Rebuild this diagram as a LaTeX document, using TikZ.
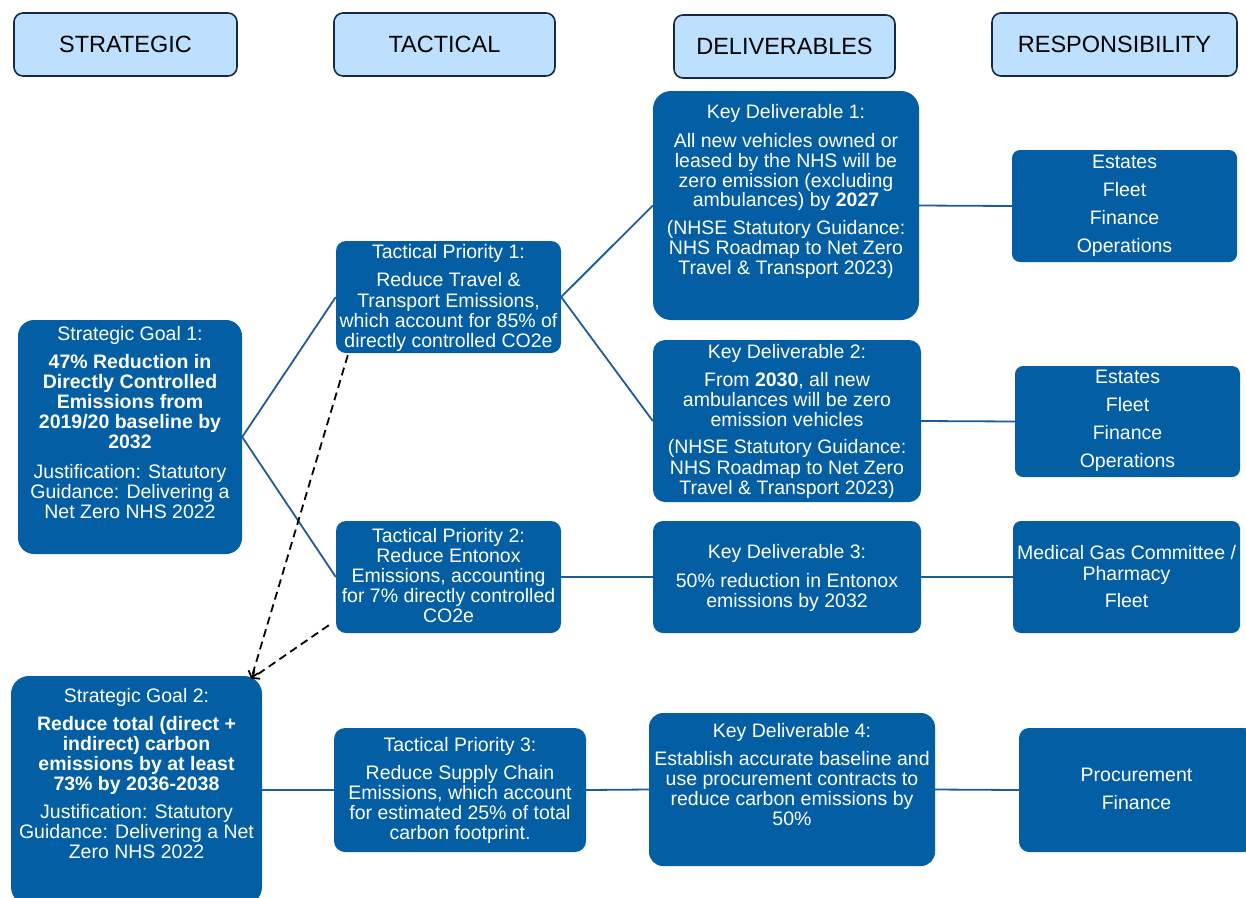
\documentclass[tikz,border=0pt]{standalone}
\usepackage{fontspec}
\setmainfont{Liberation Sans}
\usetikzlibrary{calc,arrows.meta}
\definecolor{nhsblue}{RGB}{3,94,164}
\definecolor{hdrfill}{RGB}{189,224,254}
\definecolor{hdrline}{RGB}{22,41,66}
\definecolor{linkblue}{RGB}{30,92,152}
\tikzset{
  hdr/.style={draw=hdrline, line width=1.6pt, fill=hdrfill, rounded corners=9pt, inner sep=0pt, font=\fontsize{23.5}{27}\selectfont, text=black},
  bbox/.style={fill=nhsblue, draw=none, rounded corners=10pt, inner sep=0pt},
  txt/.style={text=white, align=center, inner sep=0pt, anchor=north, font=\fontsize{19.5}{20.3}\selectfont},
  link/.style={draw=linkblue, line width=1.8pt},
  dep/.style={draw=black, line width=1.8pt, dash pattern=on 8pt off 5pt, -{Straight Barb[length=6pt,width=10pt]}}
}
\begin{document}
\begin{tikzpicture}[x=1pt,y=-1pt]
\useasboundingbox (0,0) rectangle (1246,897);
% headers
\node[hdr, minimum width=223pt, minimum height=63pt] (hs) at (125.5,44.5) {STRATEGIC};
\node[hdr, minimum width=221pt, minimum height=63pt] (ht) at (444.5,44.5) {TACTICAL};
\node[hdr, minimum width=221pt, minimum height=63pt] (hd) at (784.5,46.5) {DELIVERABLES};
\node[hdr, minimum width=245pt, minimum height=63pt] (hr) at (1114.5,44.5) {RESPONSIBILITY};
% strategic
\node[bbox, rounded corners=16pt, minimum width=224pt, minimum height=234pt] (g1) at (130,437) {};
\node[txt, font=\fontsize{19.5}{20}\selectfont] (g1t) at (130,325.8) {Strategic Goal 1:\\[8pt]
\textbf{47\% Reduction in}\\ \textbf{Directly Controlled}\\ \textbf{Emissions from}\\ \textbf{2019/20 baseline by}\\ \textbf{2032}\\[10pt]
Justification: Statutory\\ Guidance: Delivering a\\ Net Zero NHS 2022};
\node[bbox, rounded corners=18pt, minimum width=251pt, minimum height=229pt] (g2) at (136.5,790.5) {};
\node[txt, font=\fontsize{19.5}{20}\selectfont] (g2t) at (136.5,687.8) {Strategic Goal 2:\\[8pt]
\textbf{Reduce total (direct +}\\ \textbf{indirect) carbon}\\ \textbf{emissions by at least}\\ \textbf{73\% by 2036-2038}\\[8pt]
Justification: Statutory\\ Guidance: Delivering a Net\\ Zero NHS 2022};
% tactical
\node[bbox, minimum width=225pt, minimum height=112pt] (t1) at (448.5,297) {};
\node[txt] (t1t) at (448.5,243.8) {Tactical Priority 1:\\[8.5pt]
Reduce Travel \&\\ Transport Emissions,\\ which account for 85\% of\\ directly controlled CO2e};
\node[bbox, minimum width=225pt, minimum height=112pt] (t2) at (448.5,577) {};
\node[txt, font=\fontsize{19.5}{20.2}\selectfont] (t2t) at (448.5,527.8) {Tactical Priority 2:\\
Reduce Entonox\\ Emissions, accounting\\ for 7\% directly controlled\\ CO2e};
\node[bbox, rounded corners=11pt, minimum width=252pt, minimum height=124pt] (t3) at (460,790) {};
\node[txt, font=\fontsize{19.5}{20}\selectfont] (t3t) at (460,736.8) {Tactical Priority 3:\\[8pt]
Reduce Supply Chain\\ Emissions, which account\\ for estimated 25\% of total\\ carbon footprint.};
% deliverables
\node[bbox, rounded corners=18pt, minimum width=266pt, minimum height=229pt] (k1) at (786,205.5) {};
\node[txt, font=\fontsize{19.5}{19.7}\selectfont] (k1t) at (786,103.8) {Key Deliverable 1:\\[10pt]
All new vehicles owned or\\ leased by the NHS will be\\ zero emission (excluding\\ ambulances) by \textbf{2027}\\[8pt]
(NHSE Statutory Guidance:\\ NHS Roadmap to Net Zero\\ Travel \& Transport 2023)};
\node[bbox, rounded corners=12pt, minimum width=268pt, minimum height=162pt] (k2) at (787,421) {};
\node[txt, font=\fontsize{19.5}{20.2}\selectfont] (k2t) at (787,343.8) {Key Deliverable 2:\\[8pt]
From \textbf{2030}, all new\\ ambulances will be zero\\ emission vehicles\\[7pt]
(NHSE Statutory Guidance:\\ NHS Roadmap to Net Zero\\ Travel \& Transport 2023)};
\node[bbox, minimum width=268pt, minimum height=112pt] (k3) at (787,577) {};
\node[txt, font=\fontsize{19.5}{20}\selectfont] (k3t) at (787,543.8) {Key Deliverable 3:\\[9pt]
50\% reduction in Entonox\\ emissions by 2032};
\node[bbox, rounded corners=14pt, minimum width=286pt, minimum height=153pt] (k4) at (792,789.5) {};
\node[txt, font=\fontsize{19.5}{20}\selectfont] (k4t) at (792,722.8) {Key Deliverable 4:\\[8pt]
Establish accurate baseline and\\ use procurement contracts to\\ reduce carbon emissions by\\ 50\%};
% responsibility
\node[bbox, rounded corners=8pt, minimum width=225pt, minimum height=112pt] (r1) at (1124.5,206) {};
\node[txt, font=\fontsize{19.5}{20}\selectfont] (r1t) at (1124.5,154.8) {Estates\\[8pt] Fleet\\[8pt] Finance\\[8pt] Operations};
\node[bbox, rounded corners=8pt, minimum width=225pt, minimum height=111pt] (r2) at (1127.5,421.5) {};
\node[txt, font=\fontsize{19.5}{20}\selectfont] (r2t) at (1127.5,369.8) {Estates\\[8pt] Fleet\\[8pt] Finance\\[8pt] Operations};
\node[bbox, rounded corners=8pt, minimum width=227pt, minimum height=112pt] (r3) at (1126.5,577) {};
\node[txt, font=\fontsize{19.5}{21}\selectfont] (r3t) at (1126.5,544.8) {Medical Gas Committee /\\ Pharmacy\\[6pt] Fleet};
\node[bbox, rounded corners=10pt, minimum width=235pt, minimum height=124pt] (r4) at (1136.5,790) {};
\node[txt, font=\fontsize{19.5}{20}\selectfont] (r4t) at (1136.5,767.8) {Procurement\\[8pt] Finance};
% connectors
\draw[link] (t1.west) -- (g1.east) -- (t2.west);
\draw[link] (k1.west) -- (t1.east) -- (k2.west);
\draw[link] (t2.east) -- (k3.west);
\draw[link] (k1.east) -- (r1.west);
\draw[link] (k2.east) -- (r2.west);
\draw[link] (k3.east) -- (r3.west);
\draw[link] (g2.east |- t3.west) -- (t3.west);
\draw[link] (t3.east) -- (k4.west);
\draw[link] (k4.east) -- (r4.west);
% dashed dependencies
\coordinate (d1) at ($(t1.south west)+(12,2)$);
\coordinate (d2) at ($(t2.south west)+(-7,-8)$);
\coordinate (d0) at ($(g2.north east)+(-11,3)$);
\draw[dep] (d1) -- (d0);
\draw[dep] (d2) -- (d0);
\end{tikzpicture}
\end{document}
